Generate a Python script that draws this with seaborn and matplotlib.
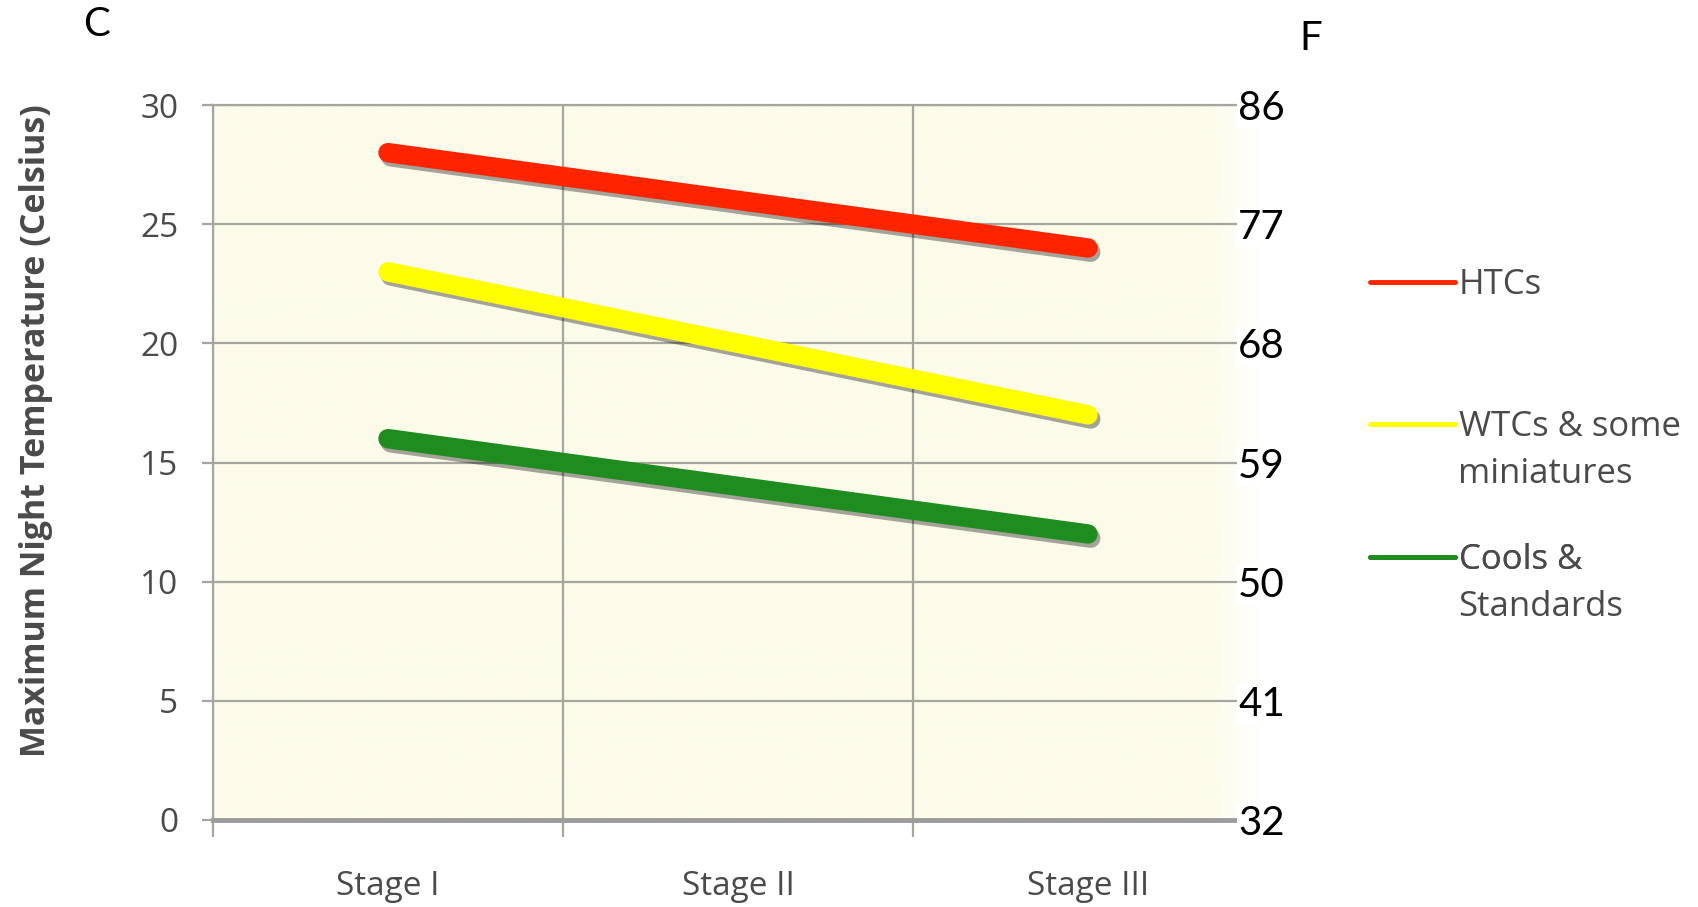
import matplotlib
matplotlib.use("Agg")
import matplotlib.pyplot as plt
import matplotlib.patheffects as pe
from matplotlib.lines import Line2D
import numpy as np
import pandas as pd
import seaborn as sns

# --------------------------------------------------
# DATA
# --------------------------------------------------

stages = ["Stage I", "Stage II", "Stage III"]

htcs = [28, 26, 24]
wtcs = [23, 20, 17]
cools = [16, 14, 12]

group_names = ["HTCs", "WTCs & some\nminiatures", "Cools &\nStandards"]

celsius_ticks = [0, 5, 10, 15, 20, 25, 30]
fahrenheit_ticks = [32, 41, 50, 59, 68, 77, 86]

line_colors = ["#FF2400", "#FFFF00", "#1E8C1E"]

# --------------------------------------------------
# LONG FORM TABLE
# --------------------------------------------------

rows = []
for name, values in zip(group_names, [htcs, wtcs, cools]):
    for stage, value in zip(stages, values):
        rows.append({"Stage": stage, "Temp": value, "Group": name})

df = pd.DataFrame(rows)

palette = dict(zip(group_names, line_colors))

# --------------------------------------------------
# STYLE
# --------------------------------------------------

sns.set_theme(style="white")
plt.rcParams["font.family"] = ["Open Sans", "DejaVu Sans"]

grid_color = "#A6A69E"
text_gray = "#4A4A4A"

fig = plt.figure(figsize=(16.99, 9.07), dpi=100)
fig.patch.set_facecolor("white")

ax = fig.add_axes([213 / 1699, 1 - 820 / 907, 1050 / 1699, 715 / 907])
ax.set_facecolor("white")

# cream plot area fading to white at the right edge
fade = np.ones((2, 200, 4))
fade[..., 0] = 0xFC / 255
fade[..., 1] = 0xFB / 255
fade[..., 2] = 0xEA / 255
fade[..., 3] = np.clip((1 - np.linspace(0, 1, 200)) / 0.05, 0, 1)
ax.imshow(fade, extent=[0, 1, 0, 1], transform=ax.transAxes,
          aspect="auto", zorder=0, interpolation="bilinear")

sns.lineplot(
    data=df,
    x="Stage",
    y="Temp",
    hue="Group",
    palette=palette,
    linewidth=14,
    sort=False,
    legend=False,
    ax=ax
)

for line in ax.get_lines():
    line.set_solid_capstyle("round")
    line.set_path_effects([
        pe.SimpleLineShadow(offset=(2, -3), shadow_color="#000000", alpha=0.35),
        pe.Normal()
    ])
    line.set_zorder(5)

# --------------------------------------------------
# AXES
# --------------------------------------------------

ax.set_xlim(-0.5, 2.5)
ax.set_ylim(0, 30)

ax.set_yticks(celsius_ticks)
ax.set_xticks(range(len(stages)))
ax.set_xticklabels(stages)
ax.set_xticks([-0.5, 0.5, 1.5], minor=True)

ax.grid(axis="y", which="major", color=grid_color, linewidth=1.6)
ax.grid(axis="x", which="minor", color=grid_color, linewidth=1.6)
ax.set_axisbelow(True)

ax.tick_params(axis="x", which="major", length=0, pad=36,
               labelsize=24, labelcolor=text_gray)
ax.tick_params(axis="x", which="minor", length=12, width=1.6,
               color=grid_color, direction="out", bottom=True)
ax.tick_params(axis="y", which="major", length=8, width=1.6,
               color=grid_color, direction="out", left=True, pad=17,
               labelsize=24, labelcolor=text_gray)

ax.spines["right"].set_visible(False)
ax.spines["top"].set_color(grid_color)
ax.spines["top"].set_linewidth(1.6)
ax.spines["left"].set_color(grid_color)
ax.spines["left"].set_linewidth(1.6)
ax.spines["bottom"].set_color("#9C9C9C")
ax.spines["bottom"].set_linewidth(3.5)

ax.set_xlabel("")
ax.set_ylabel(
    "Maximum Night Temperature (Celsius)",
    fontsize=24.5,
    fontweight="bold",
    color=text_gray
)
ax.yaxis.set_label_coords(-0.152, 0.545)

# --------------------------------------------------
# FAHRENHEIT SCALE
# --------------------------------------------------

ax2 = ax.twinx()
ax2.set_ylim(32, 86)
ax2.set_yticks(fahrenheit_ticks)
ax2.tick_params(axis="y", length=0, pad=-18, labelsize=29, labelcolor="black")
for label in ax2.get_yticklabels():
    label.set_fontfamily(["Lato", "DejaVu Sans"])
    label.set_bbox(dict(facecolor="white", edgecolor="none", pad=1))
for side in ["left", "right", "top", "bottom"]:
    ax2.spines[side].set_visible(False)
ax2.grid(False)

fig.text(97 / 1699, 1 - 24 / 907, "C", fontsize=29, family=["Lato", "DejaVu Sans"],
         ha="center", va="center", color="black")
fig.text(1311 / 1699, 1 - 38 / 907, "F", fontsize=29, family=["Lato", "DejaVu Sans"],
         ha="center", va="center", color="black")

# --------------------------------------------------
# LEGEND
# --------------------------------------------------

legend_y = [285, 427, 560]

for name, color, y in zip(group_names, line_colors, legend_y):
    lines = name.split("\n")
    handle = Line2D([], [], color=color, linewidth=3.5)
    leg = ax.legend(
        handles=[handle],
        labels=[lines[0]],
        loc="center left",
        bbox_to_anchor=(1370 / 1699, 1 - y / 907),
        bbox_transform=fig.transFigure,
        frameon=False,
        fontsize=25,
        handlelength=2.45,
        handletextpad=0.1,
        borderpad=0,
        borderaxespad=0
    )
    for t in leg.get_texts():
        t.set_color(text_gray)
    ax.add_artist(leg)
    for k, extra in enumerate(lines[1:], start=1):
        fig.text(1458 / 1699, 1 - (y + 47 * k) / 907, extra, fontsize=25,
                 color=text_gray, ha="left", va="center")

plt.savefig("out.png", dpi=100)
plt.close()
